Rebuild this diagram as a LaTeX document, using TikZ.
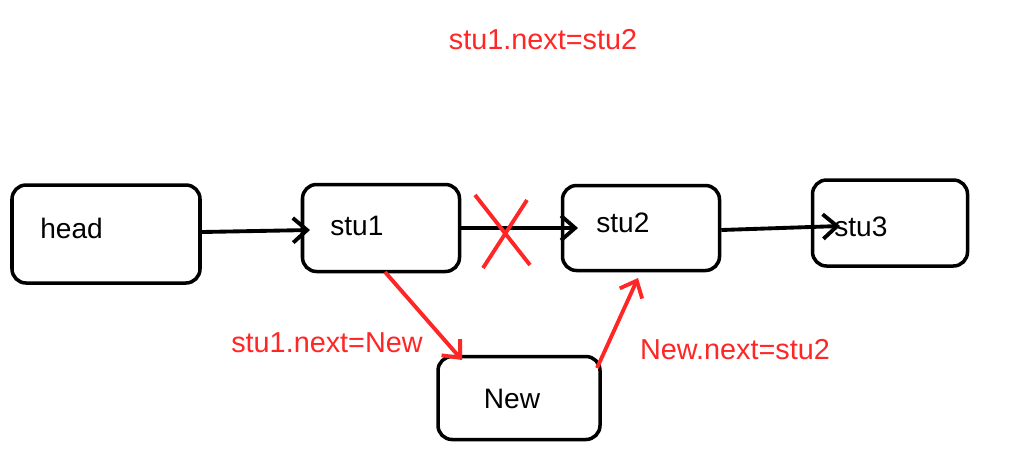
\documentclass[tikz,border=0pt]{standalone}
\usepackage{fontspec}
\setmainfont{Liberation Sans}
\usetikzlibrary{arrows.meta}
\begin{document}
\begin{tikzpicture}[x=0.02cm,y=-0.02cm,
  box/.style={draw,line width=2pt,rounded corners=8pt,inner sep=0pt},
  lbl/.style={font=\fontsize{16}{18}\selectfont,inner sep=0pt},
  rlbl/.style={font=\fontsize{16.4}{18}\selectfont,text=red!85!white,inner sep=0pt},
  blk/.style={line width=2.2pt,-{Straight Barb[length=8pt,width=14pt,line width=2.2pt]}},
  redln/.style={draw=red!85!white,line width=2.2pt},
  redarr/.style={redln,-{Straight Barb[length=8pt,width=14pt,line width=2.2pt]}}]
\useasboundingbox (0,0) rectangle (1016,461);
\node[box,minimum width=188*0.02cm,minimum height=98*0.02cm] (head) at (106,234) {};
\node[box,minimum width=157*0.02cm,minimum height=87*0.02cm] (stu1) at (381,228) {};
\node[box,minimum width=157*0.02cm,minimum height=85*0.02cm] (stu2) at (641,228) {};
\node[box,minimum width=155*0.02cm,minimum height=86*0.02cm] (stu3) at (890,223) {};
\node[box,minimum width=162*0.02cm,minimum height=83*0.02cm] (New) at (519,398) {};
\node[lbl,anchor=west] (t1) at (40,228) {head};
\node[lbl,anchor=west] (t2) at (330,226) {stu1};
\node[lbl,anchor=west] (t3) at (596,223) {stu2};
\node[lbl,anchor=west] (t4) at (834,227) {stu3};
\node[lbl] (t5) at (512,399) {New};
\node[rlbl] (l1) at (543,40) {stu1.next=stu2};
\node[rlbl] (l2) at (327,343) {stu1.next=New};
\node[rlbl] (l3) at (735,350) {New.next=stu2};
\coordinate (a1) at (310,230);
\coordinate (a2) at (578,228);
\coordinate (a3) at (840,226);
\draw[blk] (head.east |- 0,232) -- (a1);
\draw[blk] (stu1.east |- 0,228) -- (a2);
\draw[blk] (stu2.east |- 0,230) -- (a3);
\coordinate (x1) at (475,195); \coordinate (x2) at (530,265);
\coordinate (x3) at (527,200); \coordinate (x4) at (483,268);
\draw[redln] (x1) -- (x2);
\draw[redln] (x3) -- (x4);
\coordinate (r1) at (385,272); \coordinate (r2) at (462,360);
\coordinate (r3) at (597,368); \coordinate (r4) at (638,278);
\draw[redarr] (r1) -- (r2);
\draw[redarr] (r3) -- (r4);
\end{tikzpicture}
\end{document}
